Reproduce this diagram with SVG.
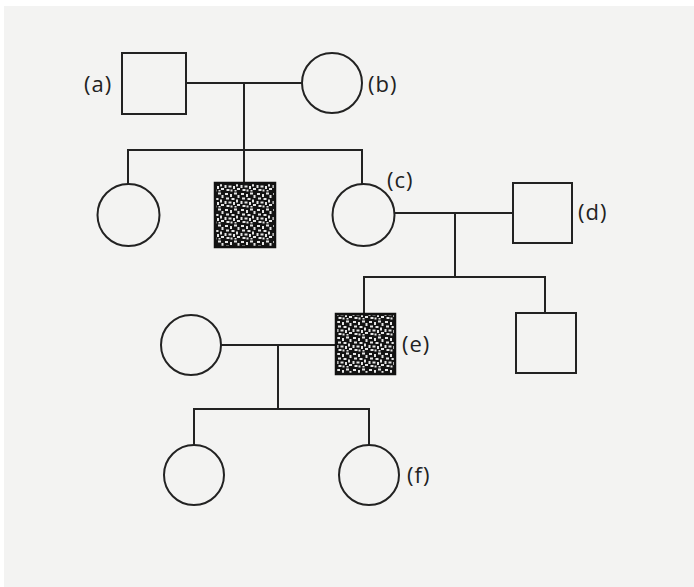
<svg xmlns="http://www.w3.org/2000/svg" width="694" height="587" viewBox="0 0 694 587">
<style>
.sym{fill:#f3f3f2;stroke:#222;stroke-width:2}
.aff{fill:url(#speckle);stroke:#111;stroke-width:2.5}
.ln{stroke:#222;stroke-width:2;fill:none}
.lbl{font-family:"Open Sans","Noto Sans",sans-serif;font-size:22px;fill:#222;letter-spacing:1px}
</style>
<defs>
<pattern id="speckle" width="16" height="16" patternUnits="userSpaceOnUse">
<rect width="16" height="16" fill="#141414"/>
<g fill="#e6e6e6">
<rect x="1" y="1" width="3" height="2"/>
<rect x="6" y="2" width="2" height="3"/>
<rect x="10" y="0.5" width="3" height="2"/>
<rect x="13.5" y="3" width="2" height="3"/>
<rect x="2" y="5.5" width="3" height="2"/>
<rect x="7.5" y="6" width="3" height="2"/>
<rect x="12" y="7.5" width="2" height="3"/>
<rect x="0.5" y="9" width="2" height="3"/>
<rect x="4.5" y="9.5" width="3" height="2"/>
<rect x="9" y="10" width="2" height="3"/>
<rect x="13" y="12" width="3" height="2"/>
<rect x="2.5" y="13" width="3" height="2"/>
<rect x="10.5" y="14" width="2" height="1.5"/>
<rect x="6.5" y="13.5" width="2" height="2"/>
</g>
</pattern>
</defs>
<rect width="694" height="587" fill="#ffffff"/>
<rect x="4" y="6" width="690" height="581" fill="#f3f3f2"/>

<g id="connectors">
<polyline class="ln" points="186,83 302,83"/>
<polyline class="ln" points="244,83 244,150"/>
<polyline class="ln" points="128,184 128,150 362,150 362,184"/>
<polyline class="ln" points="244,150 244,183"/>
<polyline class="ln" points="394,213 513,213"/>
<polyline class="ln" points="455,213 455,277"/>
<polyline class="ln" points="364,314 364,277 545,277 545,313"/>
<polyline class="ln" points="221,345 336,345"/>
<polyline class="ln" points="278,345 278,409"/>
<polyline class="ln" points="194,445 194,409 369,409 369,445"/>
</g>

<g id="node-a"><rect class="sym" x="122" y="53" width="64" height="61"/><text class="lbl" x="84" y="92">(a)</text></g>
<g id="node-b"><circle class="sym" cx="332" cy="83" r="30"/><text class="lbl" x="368" y="92">(b)</text></g>
<g id="node-gen2-1"><circle class="sym" cx="128.5" cy="215" r="31"/></g>
<g id="node-gen2-2"><rect class="aff" x="215" y="183" width="60" height="64"/></g>
<g id="node-c"><circle class="sym" cx="363.5" cy="215" r="31"/><text class="lbl" x="387" y="188">(c)</text></g>
<g id="node-d"><rect class="sym" x="513" y="183" width="59" height="60"/><text class="lbl" x="578" y="220">(d)</text></g>
<g id="node-e"><rect class="aff" x="336" y="314" width="59" height="60"/><text class="lbl" x="402" y="352">(e)</text></g>
<g id="node-gen3-2"><rect class="sym" x="516" y="313" width="60" height="60"/></g>
<g id="node-spouse-e"><circle class="sym" cx="191" cy="345" r="30"/></g>
<g id="node-gen4-1"><circle class="sym" cx="194" cy="475" r="30"/></g>
<g id="node-f"><circle class="sym" cx="369" cy="475" r="30"/><text class="lbl" x="407" y="483">(f)</text></g>
</svg>
